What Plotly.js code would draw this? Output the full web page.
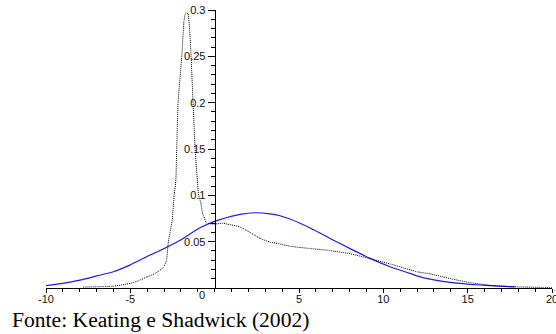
<!DOCTYPE html>
<html>
<head>
<meta charset="utf-8">
<script src="https://cdn.plot.ly/plotly-3.0.1.min.js"></script>
<style>html,body{margin:0;padding:0;background:#fff;}#chart{width:556px;height:334px;}</style>
</head>
<body>
<div id="chart"></div>
<script>
// Dotted (empirical) density
const dotX = [-7.8, -6.0, -5.0, -4.5, -4.0, -3.5, -3.05, -2.85, -2.76, -2.52, -2.4, -2.3, -2.25, -2.17, -1.95, -1.82, -1.72, -1.58, -1.47, -1.4, -1.28, -1.16, -1.03, -0.95, -0.82, -0.72, -0.47, 0.0, 0.5, 0.73, 1.5, 2.7, 3.28, 3.75, 4.47, 5.66, 6.84, 8.03, 9.21, 10.4, 11.58, 12.0, 12.77, 13.95, 15.14, 16.3, 17.5, 18.5, 19.5, 20.0];
const dotY = [0.001, 0.002, 0.005, 0.008, 0.012, 0.016, 0.022, 0.03, 0.048, 0.073, 0.10, 0.117, 0.15, 0.2, 0.25, 0.288, 0.297, 0.296, 0.275, 0.25, 0.2, 0.15, 0.117, 0.1, 0.092, 0.081, 0.07, 0.069, 0.07, 0.069, 0.066, 0.0535, 0.0495, 0.048, 0.045, 0.0426, 0.0404, 0.037, 0.0317, 0.026, 0.0197, 0.0175, 0.0153, 0.0102, 0.0058, 0.003, 0.0014, 0.001, 0.0006, 0.0004];
// Blue (normal) density
const blueX = [-10, -9, -8, -7, -6, -5, -4.42, -3.95, -3.24, -2.05, -0.87, 0.08, 1.5, 2.4, 3.28, 3.87, 4.47, 5.66, 6.84, 8.03, 9.21, 10.4, 11.58, 12.05, 12.77, 13.95, 15.14, 16.3, 17.5, 17.8];
const blueY = [0.0025, 0.005, 0.0085, 0.013, 0.0175, 0.025, 0.0302, 0.0345, 0.0405, 0.0516, 0.065, 0.0725, 0.0795, 0.0812, 0.0800, 0.0780, 0.0745, 0.0648, 0.0535, 0.0425, 0.032, 0.023, 0.0158, 0.0128, 0.0095, 0.006, 0.004, 0.0025, 0.0015, 0.0012];
// Tick labels
const xTickVals = [-10, -5, 5, 10, 15, 20];
const xTickText = ['-10', '-5', '5', '10', '15', '20'];
const yTickVals = [0.05, 0.1, 0.15, 0.2, 0.25, 0.3];
const yTickText = ['0.05', '0.1', '0.15', '0.2', '0.25', '0.3'];
const caption = 'Fonte: Keating e Shadwick (2002)';

const traces = [
  {x: blueX, y: blueY, type: 'scatter', mode: 'lines', line: {color: '#1a1aff', width: 1.2, shape: 'spline', smoothing: 0.6}, hoverinfo: 'skip', cliponaxis: false},
  {x: dotX, y: dotY, type: 'scatter', mode: 'lines', line: {color: '#000', width: 1, dash: '1px,1px', shape: 'spline', smoothing: 0.4}, hoverinfo: 'skip', cliponaxis: false}
];

const tickFont = {family: 'Liberation Sans, Arial, sans-serif', size: 11, color: '#111'};
const plotL = 46, plotW = 506;

const layout = {
  width: 556, height: 334,
  margin: {l: plotL, r: 4, t: 10.4, b: 46, pad: 0},
  paper_bgcolor: '#fff', plot_bgcolor: '#fff',
  showlegend: false,
  xaxis: {
    range: [-10, 20], showgrid: false, zeroline: false,
    showline: true, linecolor: '#000', linewidth: 1,
    ticks: 'outside', ticklen: 4, tickcolor: '#000', tickwidth: 1,
    tickvals: xTickVals, ticktext: xTickText, tickfont: tickFont,
    ticklabeloverflow: 'allow', ticklabelstandoff: -3,
    minor: {dtick: 1, ticks: 'outside', ticklen: 3, tickcolor: '#000', showgrid: false},
    fixedrange: true
  },
  yaxis: {
    range: [0, 0.3], showgrid: false, zeroline: false,
    anchor: 'free', position: 1/3, side: 'left',
    showline: true, linecolor: '#000', linewidth: 1,
    ticks: 'outside', ticklen: 7, tickcolor: '#000', tickwidth: 1,
    tickvals: yTickVals, ticktext: yTickText, tickfont: tickFont,
    minor: {dtick: 0.01, tick0: 0, ticks: 'outside', ticklen: 4, tickcolor: '#000', showgrid: false},
    fixedrange: true
  },
  annotations: [
    {x: 0, y: 0, xref: 'x', yref: 'y', text: '0', showarrow: false, xanchor: 'right', yanchor: 'top', xshift: -8, yshift: 1, font: tickFont},
    {x: (10 - plotL) / plotW, y: 0, xref: 'paper', yref: 'paper', yshift: -46, text: caption, showarrow: false, xanchor: 'left', yanchor: 'bottom', font: {family: 'Liberation Serif, Times New Roman, serif', size: 21.6, color: '#000'}}
  ]
};

Plotly.newPlot('chart', traces, layout, {staticPlot: true, displayModeBar: false});
</script>
</body>
</html>
